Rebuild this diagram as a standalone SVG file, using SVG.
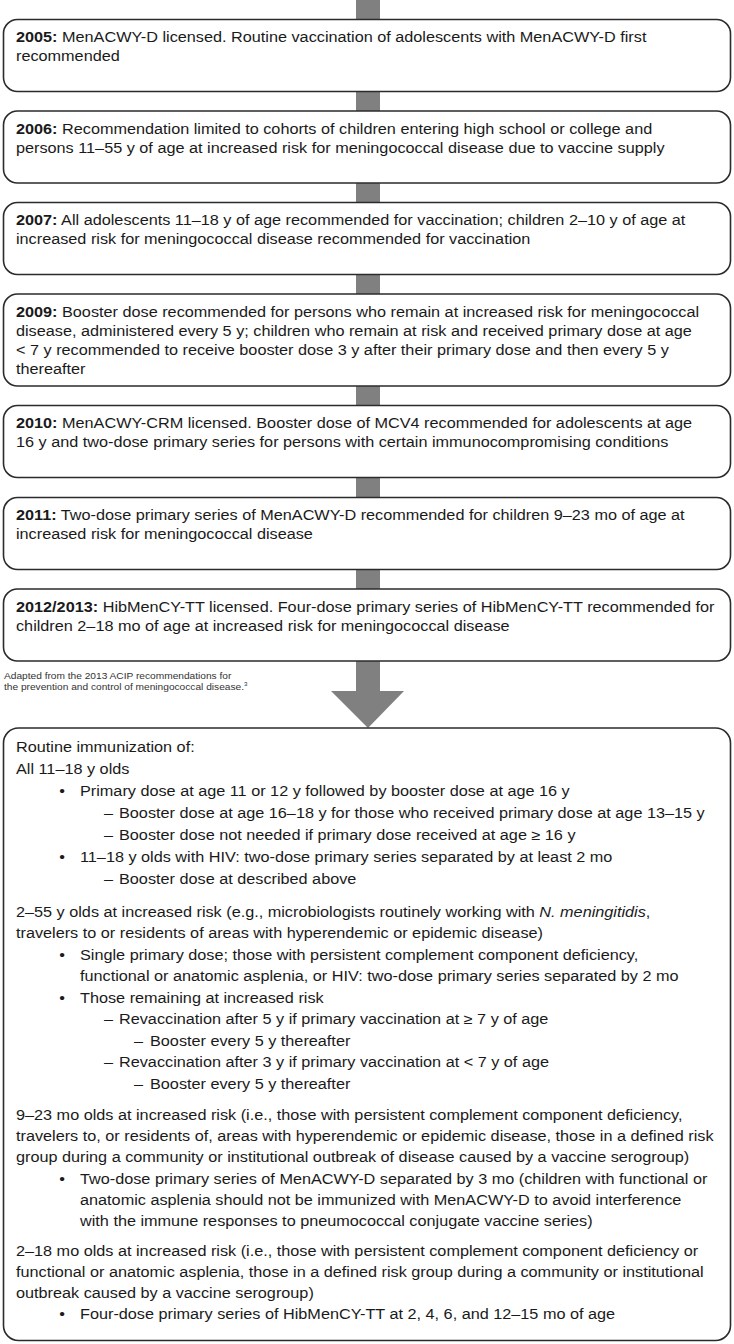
<svg xmlns="http://www.w3.org/2000/svg" width="734" height="1344" viewBox="0 0 734 1344">
<style>
.box{fill:#fff;stroke:#2b2b2b;stroke-width:1.6}
.bar{fill:#808080}
text{font-family:"Liberation Sans",Arial,Helvetica,sans-serif;font-size:14px;fill:#1a1a1a}
.b{font-weight:bold}
.i{font-style:italic}
.fn{font-size:9px;fill:#333}
</style>
<rect width="734" height="1344" fill="#fff"/>
<g id="connectors">
<rect class="bar" x="356" y="0" width="24" height="20"/>
<rect class="bar" x="356" y="91" width="24" height="21"/>
<rect class="bar" x="356" y="182" width="24" height="21"/>
<rect class="bar" x="356" y="274" width="24" height="21"/>
<rect class="bar" x="356" y="385" width="24" height="21"/>
<rect class="bar" x="356" y="477" width="24" height="21"/>
<rect class="bar" x="356" y="569" width="24" height="21"/>
<polygon class="bar" points="356,661 380,661 380,691 404,691 368,728 331,691 356,691"/>
</g>
<g id="n2005">
<rect class="box" x="3.5" y="19.5" width="727" height="72" rx="14"/>
<g transform="scale(1.16 1)">
<text x="13.79" y="42.5"><tspan class="b">2005:</tspan> MenACWY-D licensed. Routine vaccination of adolescents with MenACWY-D first</text>
<text x="13.79" y="61.5">recommended</text>
</g>
</g>
<g id="n2006">
<rect class="box" x="3.5" y="111" width="727" height="72" rx="14"/>
<g transform="scale(1.16 1)">
<text x="13.79" y="134"><tspan class="b">2006:</tspan> Recommendation limited to cohorts of children entering high school or college and</text>
<text x="13.79" y="153">persons 11–55 y of age at increased risk for meningococcal disease due to vaccine supply</text>
</g>
</g>
<g id="n2007">
<rect class="box" x="3.5" y="202.5" width="727" height="72" rx="14"/>
<g transform="scale(1.16 1)">
<text x="13.79" y="225.5"><tspan class="b">2007:</tspan> All adolescents 11–18 y of age recommended for vaccination; children 2–10 y of age at</text>
<text x="13.79" y="244.5">increased risk for meningococcal disease recommended for vaccination</text>
</g>
</g>
<g id="n2009">
<rect class="box" x="3.5" y="294" width="727" height="92" rx="14"/>
<g transform="scale(1.16 1)">
<text x="13.79" y="317"><tspan class="b">2009:</tspan> Booster dose recommended for persons who remain at increased risk for meningococcal</text>
<text x="13.79" y="336">disease, administered every 5 y; children who remain at risk and received primary dose at age</text>
<text x="13.79" y="355">&lt; 7 y recommended to receive booster dose 3 y after their primary dose and then every 5 y</text>
<text x="13.79" y="374">thereafter</text>
</g>
</g>
<g id="n2010">
<rect class="box" x="3.5" y="405.5" width="727" height="72" rx="14"/>
<g transform="scale(1.16 1)">
<text x="13.79" y="428.5"><tspan class="b">2010:</tspan> MenACWY-CRM licensed. Booster dose of MCV4 recommended for adolescents at age</text>
<text x="13.79" y="447.5">16 y and two-dose primary series for persons with certain immunocompromising conditions</text>
</g>
</g>
<g id="n2011">
<rect class="box" x="3.5" y="497.5" width="727" height="72" rx="14"/>
<g transform="scale(1.16 1)">
<text x="13.79" y="520.5"><tspan class="b">2011:</tspan> Two-dose primary series of MenACWY-D recommended for children 9–23 mo of age at</text>
<text x="13.79" y="539.5">increased risk for meningococcal disease</text>
</g>
</g>
<g id="n2012">
<rect class="box" x="3.5" y="589" width="727" height="72" rx="14"/>
<g transform="scale(1.16 1)">
<text x="13.79" y="612"><tspan class="b">2012/2013:</tspan> HibMenCY-TT licensed. Four-dose primary series of HibMenCY-TT recommended for</text>
<text x="13.79" y="631">children 2–18 mo of age at increased risk for meningococcal disease</text>
</g>
</g>
<g id="footnote">
<g transform="scale(1.13 1)">
<text class="fn" x="3.5" y="679">Adapted from the 2013 ACIP recommendations for</text>
<text class="fn" x="3.5" y="690">the prevention and control of meningococcal disease.<tspan font-size="5.5" dy="-3.5">3</tspan></text>
</g>
</g>
<g id="routine">
<rect class="box" x="3.5" y="728" width="727" height="612.5" rx="15"/>
<g transform="scale(1.16 1)">
<text x="13.79" y="752">Routine immunization of:</text>
<text x="13.79" y="774">All 11–18 y olds</text>
<text x="53.45" y="796" text-anchor="middle">•</text>
<text x="68.97" y="796">Primary dose at age 11 or 12 y followed by booster dose at age 16 y</text>
<text x="89.66" y="818">–</text>
<text x="102.59" y="818">Booster dose at age 16–18 y for those who received primary dose at age 13–15 y</text>
<text x="89.66" y="840">–</text>
<text x="102.59" y="840">Booster dose not needed if primary dose received at age ≥ 16 y</text>
<text x="53.45" y="862" text-anchor="middle">•</text>
<text x="68.97" y="862">11–18 y olds with HIV: two-dose primary series separated by at least 2 mo</text>
<text x="89.66" y="884">–</text>
<text x="102.59" y="884">Booster dose at described above</text>
<text x="13.79" y="917">2–55 y olds at increased risk (e.g., microbiologists routinely working with <tspan class="i">N. meningitidis</tspan>,</text>
<text x="13.79" y="938">travelers to or residents of areas with hyperendemic or epidemic disease)</text>
<text x="53.45" y="960" text-anchor="middle">•</text>
<text x="68.97" y="960">Single primary dose; those with persistent complement component deficiency,</text>
<text x="68.97" y="981">functional or anatomic asplenia, or HIV: two-dose primary series separated by 2 mo</text>
<text x="53.45" y="1003" text-anchor="middle">•</text>
<text x="68.97" y="1003">Those remaining at increased risk</text>
<text x="89.66" y="1024">–</text>
<text x="102.59" y="1024">Revaccination after 5 y if primary vaccination at ≥ 7 y of age</text>
<text x="115.52" y="1046">–</text>
<text x="129.31" y="1046">Booster every 5 y thereafter</text>
<text x="89.66" y="1067">–</text>
<text x="102.59" y="1067">Revaccination after 3 y if primary vaccination at &lt; 7 y of age</text>
<text x="115.52" y="1089">–</text>
<text x="129.31" y="1089">Booster every 5 y thereafter</text>
<text x="13.79" y="1120">9–23 mo olds at increased risk (i.e., those with persistent complement component deficiency,</text>
<text x="13.79" y="1141">travelers to, or residents of, areas with hyperendemic or epidemic disease, those in a defined risk</text>
<text x="13.79" y="1162">group during a community or institutional outbreak of disease caused by a vaccine serogroup)</text>
<text x="53.45" y="1184" text-anchor="middle">•</text>
<text x="68.97" y="1184">Two-dose primary series of MenACWY-D separated by 3 mo (children with functional or</text>
<text x="68.97" y="1205">anatomic asplenia should not be immunized with MenACWY-D to avoid interference</text>
<text x="68.97" y="1226">with the immune responses to pneumococcal conjugate vaccine series)</text>
<text x="13.79" y="1256">2–18 mo olds at increased risk (i.e., those with persistent complement component deficiency or</text>
<text x="13.79" y="1277">functional or anatomic asplenia, those in a defined risk group during a community or institutional</text>
<text x="13.79" y="1298">outbreak caused by a vaccine serogroup)</text>
<text x="53.45" y="1319" text-anchor="middle">•</text>
<text x="68.97" y="1319">Four-dose primary series of HibMenCY-TT at 2, 4, 6, and 12–15 mo of age</text>
</g>
</g>
</svg>
